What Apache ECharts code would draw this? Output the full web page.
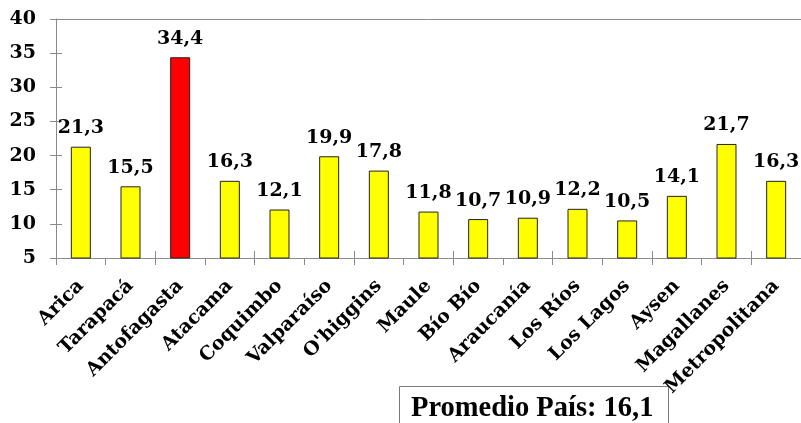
<!DOCTYPE html>
<html>
<head>
<meta charset="utf-8">
<script src="https://cdn.jsdelivr.net/npm/echarts@6/dist/echarts.min.js"></script>
<style>
html,body{margin:0;padding:0;background:#fff;}
#chart{width:801px;height:423px;}
</style>
</head>
<body>
<div id="chart"></div>
<script>
const categories = ['Arica','Tarapacá','Antofagasta','Atacama','Coquimbo','Valparaíso',"O'higgins",'Maule','Bío Bío','Araucanía','Los Ríos','Los Lagos','Aysen','Magallanes','Metropolitana'];
const values = [21.3, 15.5, 34.4, 16.3, 12.1, 19.9, 17.8, 11.8, 10.7, 10.9, 12.2, 10.5, 14.1, 21.7, 16.3];
const highlightCategory = 'Antofagasta';
const yMin = 5, yMax = 40, yStep = 5;
const averageText = 'Promedio País: 16,1';

const fmt = v => v.toFixed(1).replace('.', ',');
const serif = '"DejaVu Serif", serif';
const axisGray = '#8a8a8a';

const chart = echarts.init(document.getElementById('chart'), null, {renderer:'canvas'});
chart.setOption({
  animation: false,
  backgroundColor: '#ffffff',
  grid: {left: 56, right: -3, top: 19, bottom: 165, containLabel: false},
  xAxis: [
    {
      type: 'category', data: categories, position: 'bottom',
      axisLine: {show: true, lineStyle: {color: axisGray, width: 1}},
      axisTick: {show: true, inside: false, length: 7, lineStyle: {color: axisGray}},
      axisLabel: {rotate: 45, margin: 25, interval: 0, color: '#000', fontFamily: serif, fontWeight: 'bold', fontSize: 19}
    },
    {
      type: 'category', data: categories, position: 'bottom',
      axisLine: {show: false},
      axisTick: {show: true, inside: true, length: 7, lineStyle: {color: axisGray}},
      axisLabel: {show: false}
    },
    {
      type: 'category', data: categories, position: 'top',
      axisLine: {show: true, lineStyle: {color: axisGray, width: 1}},
      axisTick: {show: false},
      axisLabel: {show: false}
    }
  ],
  yAxis: [
    {
      type: 'value', min: yMin, max: yMax, interval: yStep, position: 'left',
      axisLine: {show: true, lineStyle: {color: axisGray, width: 1}},
      axisTick: {show: true, inside: false, length: 6, lineStyle: {color: axisGray}},
      splitLine: {show: false},
      axisLabel: {margin: 20, color: '#000', fontFamily: serif, fontWeight: 'bold', fontSize: 19}
    },
    {
      type: 'value', min: yMin, max: yMax, interval: yStep, position: 'left',
      axisLine: {show: false},
      axisTick: {show: true, inside: true, length: 6, lineStyle: {color: axisGray}},
      splitLine: {show: false},
      axisLabel: {show: false}
    }
  ],
  series: [{
    type: 'bar',
    xAxisIndex: 0, yAxisIndex: 0,
    data: values,
    barWidth: 20,
    itemStyle: {
      color: p => p.name === highlightCategory ? '#ff0000' : '#ffff00',
      borderColor: '#222222', borderWidth: 1
    },
    label: {
      show: true, position: 'top', distance: 9,
      formatter: p => fmt(p.value),
      color: '#000', fontFamily: serif, fontWeight: 'bold', fontSize: 19
    }
  }],
  graphic: [
    {
      type: 'rect', left: 399, top: 386,
      shape: {width: 269, height: 50},
      style: {fill: '#ffffff', stroke: '#7a7a7a', lineWidth: 1}
    },
    {
      type: 'text', left: 411, top: 394,
      style: {text: averageText, fill: '#000', font: 'bold 28.5px "Liberation Serif", serif'}
    }
  ]
});
</script>
</body>
</html>
